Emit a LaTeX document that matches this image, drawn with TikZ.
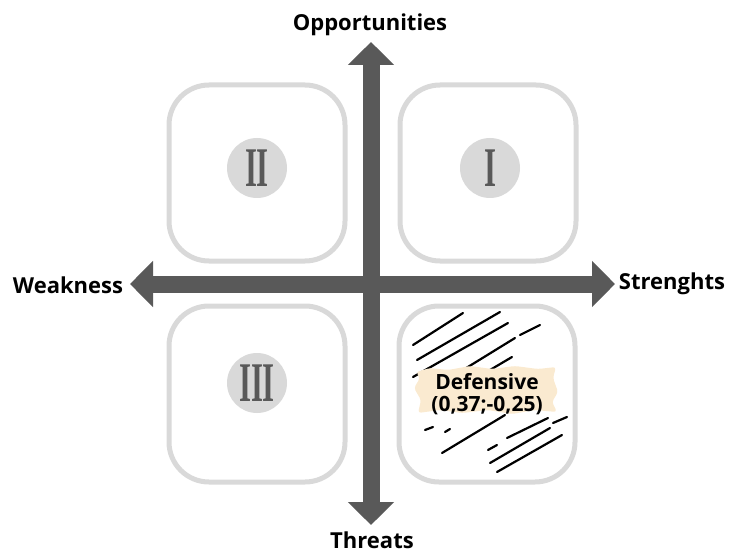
\documentclass[tikz,border=0pt]{standalone}
\usepackage{fontspec}
\usepackage{graphicx}
\setmainfont{Open Sans}
\newfontfamily\numfont{Liberation Serif}
\usetikzlibrary{arrows.meta}

\definecolor{axisgray}{HTML}{595959}
\definecolor{boxgray}{HTML}{D9D9D9}
\definecolor{brush}{HTML}{FAEAD0}

\tikzset{
  quad/.style={draw=boxgray, line width=5pt, rounded corners=40pt,
    minimum width=176pt, minimum height=176pt},
  numeral/.style={circle, fill=boxgray, minimum size=60pt, inner sep=0pt,
    text=axisgray, font=\numfont\bfseries\fontsize{56}{56}\selectfont},
  axis/.style={axisgray, line width=17pt,
    {Triangle[width=45pt,length=23pt]}-{Triangle[width=45pt,length=23pt]}},
  axislabel/.style={font=\bfseries\fontsize{22}{24}\selectfont},
  hatch/.style={line width=2.2pt, line cap=round},
}

\begin{document}
\begin{tikzpicture}[x=1pt, y=-1pt]
    \useasboundingbox (0,0) rectangle (730,553);

    % quadrants
    \node[quad] (q2) at (257, 173) {};
    \node[quad] (q1) at (488, 173) {};
    \node[quad] (q3) at (257, 394) {};
    \node[quad] (q4) at (487, 394) {};

    \node[numeral] (n2) at (257, 168) {\scalebox{0.55}[1]{II}};
    \node[numeral] (n1) at (490, 168) {\scalebox{0.55}[1]{I}};
    \node[numeral] (n3) at (257, 383) {\scalebox{0.55}[1]{III}};

    % hatching in the defensive quadrant
    \draw[hatch] (413,345) -- (463,313);
    \draw[hatch] (417,360) -- (500,312);
    \draw[hatch] (413,377) -- (508,323);
    \draw[hatch] (520,335) -- (540,325);
    \draw[hatch] (463,370) -- (515,338);
    \draw[hatch] (490,370) -- (512,357);
    \draw[hatch] (425,430) -- (433,427);
    \draw[hatch] (445,432) -- (450,429);
    \draw[hatch] (442,453) -- (505,415);
    \draw[hatch] (488,450) -- (497,445);
    \draw[hatch] (507,438) -- (548,418);
    \draw[hatch] (490,463) -- (550,428);
    \draw[hatch] (497,472) -- (562,435);
    \draw[hatch] (553,423) -- (567,417);

    \fill[brush, rounded corners=3pt] (416,372) -- (430,368) -- (448,370) -- (470,366)
        -- (492,369) -- (515,366) -- (538,369) -- (556,367) -- (553,378) -- (558,392)
        -- (552,402) -- (557,412) -- (535,410) -- (512,414) -- (488,410) -- (462,413)
        -- (440,410) -- (418,413) -- (421,400) -- (414,388) -- (420,378) -- cycle;
    \node[align=center, font=\bfseries\fontsize{21}{22}\selectfont] (def) at (487, 394)
        {Defensive\\(0,37;-0,25)};

    % axes
    \coordinate (top) at (371, 42);
    \coordinate (bot) at (371, 525);
    \coordinate (lft) at (130, 284);
    \coordinate (rgt) at (615, 284);
    \draw[axis] (bot) -- (top);
    \draw[axis] (lft) -- (rgt);

    \node[axislabel] (opp) at (370, 25) {Opportunities};
    \node[axislabel] (thr) at (372, 540) {Threats};
    \node[axislabel] (weak) at (68, 285) {Weakness};
    \node[axislabel] (str) at (672, 284) {Strenghts};
\end{tikzpicture}
\end{document}
